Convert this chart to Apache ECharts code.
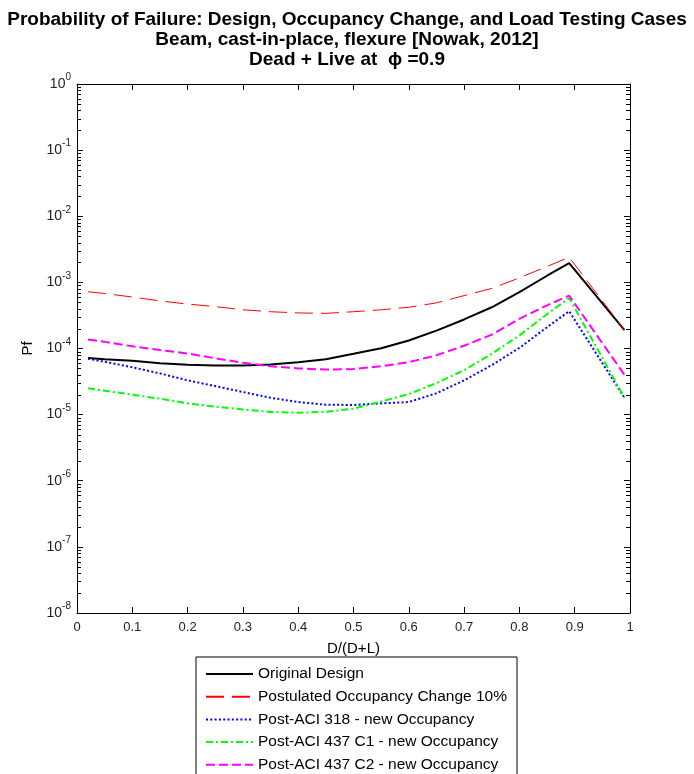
<!DOCTYPE html>
<html>
<head>
<meta charset="utf-8">
<script src="https://cdn.jsdelivr.net/npm/echarts@6/dist/echarts.min.js"></script>
<style>
  html, body { margin: 0; padding: 0; background: #fff; }
  #chart { width: 694px; height: 774px; }
</style>
</head>
<body>
<div id="chart"></div>
<script>
// D/(D+L) ratios at which Pf was evaluated
const ratios = [0.02, 0.05, 0.10, 0.15, 0.20, 0.25, 0.30, 0.35, 0.40, 0.45, 0.50,
                0.55, 0.60, 0.65, 0.70, 0.75, 0.80, 0.85, 0.89, 0.99];

// Probability of failure for each case
const originalDesign = [7.2e-5, 6.9e-5, 6.5e-5, 6.0e-5, 5.7e-5, 5.55e-5, 5.55e-5, 5.75e-5, 6.2e-5, 6.9e-5,
                        8.3e-5, 1.01e-4, 1.32e-4, 1.86e-4, 2.75e-4, 4.2e-4, 7.1e-4, 1.26e-3, 1.96e-3, 1.9e-4];
const postulatedChange = [7.2e-4, 6.8e-4, 6.0e-4, 5.25e-4, 4.7e-4, 4.3e-4, 3.85e-4, 3.6e-4, 3.45e-4, 3.4e-4,
                          3.6e-4, 3.85e-4, 4.2e-4, 4.9e-4, 6.3e-4, 8.1e-4, 1.17e-3, 1.74e-3, 2.4e-3, 1.9e-4];
const postAci318 = [7.0e-5, 6.3e-5, 5.2e-5, 4.2e-5, 3.3e-5, 2.7e-5, 2.2e-5, 1.8e-5, 1.55e-5, 1.41e-5,
                    1.4e-5, 1.48e-5, 1.55e-5, 2.1e-5, 3.3e-5, 5.6e-5, 1.02e-4, 2.1e-4, 3.66e-4, 1.8e-5];
const postAci437C1 = [2.5e-5, 2.3e-5, 2.0e-5, 1.74e-5, 1.48e-5, 1.32e-5, 1.2e-5, 1.1e-5, 1.07e-5, 1.1e-5,
                      1.23e-5, 1.58e-5, 2.04e-5, 3.0e-5, 4.7e-5, 8.3e-5, 1.58e-4, 3.3e-4, 5.8e-4, 1.8e-5];
const postAci437C2 = [1.37e-4, 1.26e-4, 1.08e-4, 9.5e-5, 8.4e-5, 7.1e-5, 6.1e-5, 5.4e-5, 5.0e-5, 4.8e-5,
                      4.9e-5, 5.4e-5, 6.2e-5, 7.9e-5, 1.1e-4, 1.62e-4, 2.8e-4, 4.5e-4, 6.3e-4, 4.0e-5];

const seriesNames = [
  'Original Design',
  'Postulated Occupancy Change 10%',
  'Post-ACI 318 - new Occupancy',
  'Post-ACI 437 C1 - new Occupancy',
  'Post-ACI 437 C2 - new Occupancy'
];

const titleLines = [
  'Probability of Failure: Design, Occupancy Change, and Load Testing Cases',
  'Beam, cast-in-place, flexure [Nowak, 2012]',
  'Dead + Live at  \u03d5 =0.9'
];

// Log-axis decades and the intermediate (minor) tick values 2..9 x 10^n
const decadeMin = -8, decadeMax = 0;
const minorTickValues = [];
for (let n = decadeMin; n < decadeMax; n++) {
  for (let m = 2; m <= 9; m++) minorTickValues.push(m * Math.pow(10, n));
}

const FONT = 'Arial, "Liberation Sans", Helvetica, sans-serif';
const pair = arr => ratios.map((x, i) => [x, arr[i]]);

function lineSeries(name, data, color, width, dash) {
  return {
    name, type: 'line', data: pair(data),
    symbol: 'none', showSymbol: false,
    lineStyle: { color, width, type: dash },
    itemStyle: { color },
    emphasis: { disabled: true },
    animation: false, z: 3
  };
}

const expLabel = v => {
  const e = Math.round(Math.log10(v));
  return '{b|10}{e|' + e + '}';
};

const chart = echarts.init(document.getElementById('chart'));
chart.setOption({
  backgroundColor: '#fff',
  animation: false,
  title: titleLines.map((t, i) => ({
    text: t,
    left: 'center', top: 5 + i * 20,
    textStyle: { fontFamily: FONT, fontSize: 19, fontWeight: 'bold', color: '#000' }
  })),
  grid: { left: 77, right: 64, top: 84, bottom: 161, containLabel: false },
  legend: {
    data: seriesNames,
    orient: 'vertical',
    left: 196, top: 657, height: 140,
    padding: [9, 10, 9, 9],
    itemWidth: 47, itemHeight: 14, itemGap: 6.7,
    backgroundColor: '#fff',
    borderColor: '#000', borderWidth: 1,
    itemStyle: { color: 'rgba(0,0,0,0)', borderWidth: 0, opacity: 0 },
    textStyle: { fontFamily: FONT, fontSize: 15.5, color: '#000' },
    selectedMode: false
  },
  xAxis: [{
    type: 'value', min: 0, max: 1, interval: 0.1,
    name: 'D/(D+L)', nameLocation: 'middle', nameGap: 28,
    nameTextStyle: { fontFamily: FONT, fontSize: 15, color: '#000' },
    axisLine: { show: true, onZero: false, lineStyle: { color: '#000', width: 1 } },
    axisTick: { show: true, inside: true, length: 6, lineStyle: { color: '#000' } },
    axisLabel: { fontFamily: FONT, fontSize: 13, color: '#222', margin: 8,
                 formatter: v => String(+v.toFixed(1)) },
    splitLine: { show: false }
  }, {
    type: 'value', min: 0, max: 1, interval: 0.1, position: 'top',
    axisLine: { show: true, onZero: false, lineStyle: { color: '#000', width: 1 } },
    axisTick: { show: true, inside: true, length: 6, lineStyle: { color: '#000' } },
    axisLabel: { show: false }, splitLine: { show: false }
  }],
  yAxis: [{
    type: 'log', logBase: 10, min: 1e-8, max: 1,
    name: 'Pf', nameLocation: 'middle', nameGap: 42,
    nameTextStyle: { fontFamily: FONT, fontSize: 15, color: '#000' },
    axisLine: { show: true, onZero: false, lineStyle: { color: '#000', width: 1 } },
    axisTick: { show: true, inside: true, length: 6, lineStyle: { color: '#000' } },
    axisLabel: {
      fontFamily: FONT, color: '#222', margin: 6,
      formatter: expLabel,
      rich: {
        b: { fontFamily: FONT, fontSize: 14, color: '#222' },
        e: { fontFamily: FONT, fontSize: 10, color: '#222', padding: [0, 0, 13, 0] }
      }
    },
    splitLine: { show: false }
  }, {
    type: 'log', logBase: 10, min: 1e-8, max: 1, position: 'right',
    axisLine: { show: true, onZero: false, lineStyle: { color: '#000', width: 1 } },
    axisTick: { show: true, inside: true, length: 6, lineStyle: { color: '#000' } },
    axisLabel: { show: false }, splitLine: { show: false }
  }],
  series: [
    lineSeries(seriesNames[0], originalDesign, '#000000', 2, 'solid'),
    lineSeries(seriesNames[1], postulatedChange, '#ff0000', 1, [18, 8]),
    lineSeries(seriesNames[2], postAci318, '#0000ff', 2, [2, 2.3]),
    lineSeries(seriesNames[3], postAci437C1, '#00ff00', 2, [7, 3, 2, 3]),
    lineSeries(seriesNames[4], postAci437C2, '#ff00ff', 2, [9, 4]),
    {
      // minor ticks of the log axis, on both the left and right edges of the box
      name: 'minorTicks', type: 'custom', silent: true, animation: false,
      xAxisIndex: 0, yAxisIndex: 0, clip: false,
      data: minorTickValues.map(v => [0, v]),
      renderItem: (params, api) => {
        const v = api.value(1);
        const l = api.coord([0, v]);
        const r = api.coord([1, v]);
        const y = Math.round(l[1]) + 0.5;
        return {
          type: 'group',
          children: [
            { type: 'line', shape: { x1: l[0], y1: y, x2: l[0] + 4, y2: y },
              style: { stroke: '#000', lineWidth: 1 } },
            { type: 'line', shape: { x1: r[0] - 4, y1: y, x2: r[0], y2: y },
              style: { stroke: '#000', lineWidth: 1 } }
          ]
        };
      }
    }
  ]
});
</script>
</body>
</html>
